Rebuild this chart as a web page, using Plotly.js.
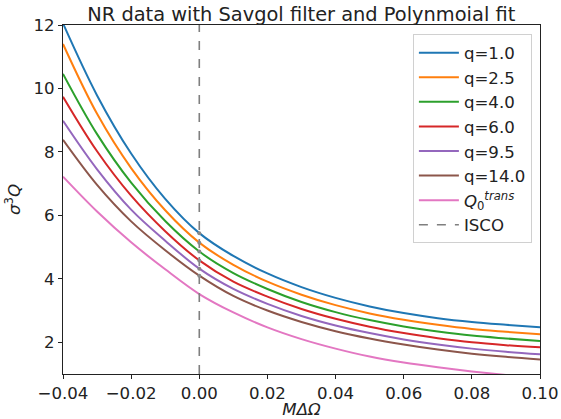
<!DOCTYPE html>
<html>
<head>
<meta charset="utf-8">
<script src="https://cdn.plot.ly/plotly-3.0.1.min.js"></script>
<style>html,body{margin:0;padding:0;background:#fff;}#chart{width:561px;height:419px;}</style>
</head>
<body>
<div id="chart"></div>
<script>
// M ΔΩ sample positions
const xVals = [-0.04, -0.03, -0.02, -0.01, 0.00, 0.01, 0.02, 0.03, 0.04, 0.05, 0.06, 0.07, 0.08, 0.09, 0.10];
// sigma^3 Q values
const q1_0   = [12.05, 9.78, 7.95, 6.52, 5.44, 4.72, 4.17, 3.74, 3.40, 3.13, 2.92, 2.76, 2.64, 2.55, 2.47];
const q2_5   = [11.40, 9.20, 7.49, 6.16, 5.14, 4.44, 3.91, 3.50, 3.17, 2.91, 2.71, 2.55, 2.42, 2.33, 2.25];
const q4_0   = [10.46, 8.56, 7.03, 5.82, 4.86, 4.18, 3.68, 3.27, 2.95, 2.70, 2.50, 2.34, 2.21, 2.12, 2.04];
const q6_0   = [9.74, 8.02, 6.62, 5.50, 4.58, 3.91, 3.44, 3.05, 2.74, 2.49, 2.29, 2.13, 2.00, 1.91, 1.84];
const q9_5   = [8.98, 7.45, 6.18, 5.20, 4.32, 3.68, 3.21, 2.83, 2.53, 2.29, 2.09, 1.93, 1.80, 1.70, 1.62];
const q14_0  = [8.38, 6.96, 5.81, 4.90, 4.10, 3.46, 3.00, 2.64, 2.35, 2.12, 1.93, 1.77, 1.64, 1.54, 1.46];
const qTrans = [7.22, 6.12, 5.15, 4.30, 3.52, 2.94, 2.47, 2.10, 1.80, 1.55, 1.36, 1.21, 1.08, 0.97, 0.87];
const seriesNames = ["q=1.0", "q=2.5", "q=4.0", "q=6.0", "q=9.5", "q=14.0", "<i>Q</i><sub>0</sub><sup><i>trans</i></sup>"];
const seriesColors = ["#1f77b4", "#ff7f0e", "#2ca02c", "#d62728", "#9467bd", "#8c564b", "#e377c2"];
const iscoX = [0, 0];
const iscoY = [1, 12];
const xTicks = [-0.04, -0.02, 0.00, 0.02, 0.04, 0.06, 0.08, 0.10];
const yTicks = [2, 4, 6, 8, 10, 12];

const allSeries = [q1_0, q2_5, q4_0, q6_0, q9_5, q14_0, qTrans];
const traces = allSeries.map((ys, i) => ({
  x: xVals, y: ys, type: 'scatter', mode: 'lines', name: seriesNames[i],
  legendgroup: 'g' + i,
  line: {color: seriesColors[i], width: 2, shape: 'spline', smoothing: 1.0}
}));
traces.push({
  x: iscoX, y: iscoY, type: 'scatter', mode: 'lines', name: 'ISCO', legendgroup: 'isco',
  line: {color: '#7f7f7f', width: 1.6, dash: 'dash'}
});
const i0 = xVals.indexOf(0);
traces.push({
  x: allSeries.slice(0, 6).map(() => 0), y: allSeries.slice(0, 6).map(s => s[i0]),
  type: 'scatter', mode: 'markers', showlegend: false, hoverinfo: 'skip',
  marker: {color: '#888888', size: 4}
});

const FS = 16.6;
const font = {family: 'DejaVu Sans, sans-serif', color: '#222', size: FS};
const layout = {
  width: 561, height: 419,
  margin: {l: 63, r: 21, t: 25, b: 45},
  paper_bgcolor: '#fff', plot_bgcolor: '#fff',
  font: font,
  showlegend: true,
  title: {text: 'NR data with Savgol filter and Polynmoial fit', font: {family: 'DejaVu Sans, sans-serif', size: 19.4, color: '#222'},
          x: 0.537, xanchor: 'center', yref: 'container', y: 0.982, yanchor: 'top'},
  xaxis: {
    range: [-0.04, 0.10], tickvals: xTicks, tickformat: '.2f',
    showline: true, mirror: true, linecolor: '#222', linewidth: 1,
    ticks: 'outside', ticklen: 4, tickcolor: '#222', showgrid: false, zeroline: false,
    tickfont: {size: FS},
    title: {text: '<i>MΔΩ</i>', font: {size: FS}, standoff: 2}
  },
  yaxis: {
    range: [1, 12], tickvals: yTicks,
    showline: true, mirror: true, linecolor: '#222', linewidth: 1,
    ticks: 'outside', ticklen: 4, tickcolor: '#222', showgrid: false, zeroline: false,
    tickfont: {size: FS},
    title: {text: '<i>σ</i><sup>3</sup><i>Q</i>', font: {size: FS}, standoff: 8}
  },
  legend: {
    x: 0.983, xanchor: 'right', y: 0.973, yanchor: 'top',
    bgcolor: 'rgba(255,255,255,0.9)', bordercolor: '#d0d0d0', borderwidth: 1,
    font: {size: FS}, tracegroupgap: 1, itemwidth: 40, traceorder: 'normal'
  }
};
Plotly.newPlot('chart', traces, layout, {displayModeBar: false, staticPlot: true});
</script>
</body>
</html>
